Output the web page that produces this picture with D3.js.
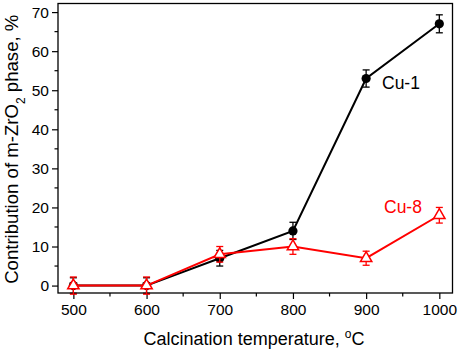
<!DOCTYPE html>
<html>
<head>
<meta charset="utf-8">
<script src="https://cdn.jsdelivr.net/npm/d3@7"></script>
<style>
  body { margin: 0; background: #fff; }
  svg text { font-family: "Liberation Sans", Arial, sans-serif; }
</style>
</head>
<body>
<div id="chart"></div>
<script>
// --- data ---
const temps = [500, 600, 700, 800, 900, 1000];
const cu1 = [0, 0, 7, 14, 53, 67];
const cu1Err = [2, 2, 2, 2.2, 2.2, 2.3];
const cu8 = [0, 0, 8, 10, 7, 18];
const cu8Err = [2.2, 2.2, 2, 2, 1.8, 2];
const yTicks = [0, 10, 20, 30, 40, 50, 60, 70];
const xTicks = [500, 600, 700, 800, 900, 1000];

const width = 459, height = 353;
const margin = { top: 3.5, right: 6.5, bottom: 60, left: 58 };

const svg = d3.select("#chart").append("svg")
    .attr("width", width)
    .attr("height", height);

const x = d3.scaleLinear()
    .domain([479, 1018])
    .range([margin.left, width - margin.right]);
const y = d3.scaleLinear()
    .domain([-1.9, 72.2])
    .range([height - margin.bottom, margin.top]);

// --- frame ---
svg.append("rect")
    .attr("x", margin.left)
    .attr("y", margin.top)
    .attr("width", width - margin.left - margin.right)
    .attr("height", height - margin.top - margin.bottom)
    .attr("fill", "none")
    .attr("stroke", "#000")
    .attr("stroke-width", 1.3);

// --- axes ---
const xAxis = svg.append("g")
    .attr("transform", `translate(0,${height - margin.bottom})`)
    .call(d3.axisBottom(x).tickValues(xTicks).tickFormat(d3.format("d")).tickSize(6).tickPadding(5));
xAxis.append("g").selectAll("line")
    .data(d3.range(550, 1001, 100))
    .join("line")
    .attr("x1", d => x(d)).attr("x2", d => x(d))
    .attr("y1", 0).attr("y2", 3.5)
    .attr("stroke", "#000");

const yAxis = svg.append("g")
    .attr("transform", `translate(${margin.left},0)`)
    .call(d3.axisLeft(y).tickValues(yTicks).tickSize(6).tickPadding(3));
yAxis.append("g").selectAll("line")
    .data(d3.range(5, 71, 10))
    .join("line")
    .attr("y1", d => y(d)).attr("y2", d => y(d))
    .attr("x1", 0).attr("x2", -3.5)
    .attr("stroke", "#000");

[xAxis, yAxis].forEach(g => {
    g.select(".domain").remove();
    g.selectAll("line").attr("stroke", "#000").attr("stroke-width", 1.2);
    g.selectAll("text").attr("font-size", 15.5).attr("fill", "#000")
        .attr("font-family", "'Liberation Sans', Arial, sans-serif");
});

// --- axis titles ---
svg.append("text")
    .attr("x", 254)
    .attr("y", 345)
    .attr("text-anchor", "middle")
    .attr("font-size", 18)
    .html("Calcination temperature, <tspan baseline-shift='super' font-size='12'>o</tspan>C");

svg.append("text")
    .attr("transform", `translate(18,${(margin.top + height - margin.bottom) / 2 + 1}) rotate(-90)`)
    .attr("text-anchor", "middle")
    .attr("font-size", 18.6)
    .html("Contribution of m-ZrO<tspan baseline-shift='sub' font-size='12'>2</tspan> phase, %");

// --- series ---
function drawSeries(vals, errs, color, marker) {
    const pts = temps.map((t, i) => ({ t, v: vals[i], e: errs[i] }));
    const g = svg.append("g");

    g.append("path")
        .datum(pts)
        .attr("fill", "none")
        .attr("stroke", color)
        .attr("stroke-width", 2)
        .attr("d", d3.line().x(d => x(d.t)).y(d => y(d.v)));

    const eb = g.selectAll("g.err").data(pts).join("g").attr("class", "err")
        .attr("stroke", color).attr("stroke-width", 1.3);
    eb.append("line")
        .attr("x1", d => x(d.t)).attr("x2", d => x(d.t))
        .attr("y1", d => y(d.v - d.e)).attr("y2", d => y(d.v + d.e));
    eb.append("line")
        .attr("x1", d => x(d.t) - 3.5).attr("x2", d => x(d.t) + 3.5)
        .attr("y1", d => y(d.v + d.e)).attr("y2", d => y(d.v + d.e));
    eb.append("line")
        .attr("x1", d => x(d.t) - 3.5).attr("x2", d => x(d.t) + 3.5)
        .attr("y1", d => y(d.v - d.e)).attr("y2", d => y(d.v - d.e));

    if (marker === "circle") {
        g.selectAll("circle").data(pts).join("circle")
            .attr("cx", d => x(d.t)).attr("cy", d => y(d.v))
            .attr("r", 4.6)
            .attr("fill", color);
    } else {
        const tri = d3.symbol().type(d3.symbolTriangle).size(56);
        g.selectAll("path.mk").data(pts).join("path")
            .attr("class", "mk")
            .attr("transform", d => `translate(${x(d.t)},${y(d.v)})`)
            .attr("d", tri)
            .attr("fill", "#fff")
            .attr("stroke", color)
            .attr("stroke-width", 1.5);
    }
}

drawSeries(cu1, cu1Err, "#000", "circle");
drawSeries(cu8, cu8Err, "#ff0000", "triangle");

// --- series labels ---
svg.append("text")
    .attr("x", 382).attr("y", 89)
    .attr("font-size", 17.5)
    .attr("fill", "#000")
    .text("Cu-1");
svg.append("text")
    .attr("x", 384).attr("y", 213)
    .attr("font-size", 17.5)
    .attr("fill", "#ff0000")
    .text("Cu-8");
</script>
</body>
</html>
